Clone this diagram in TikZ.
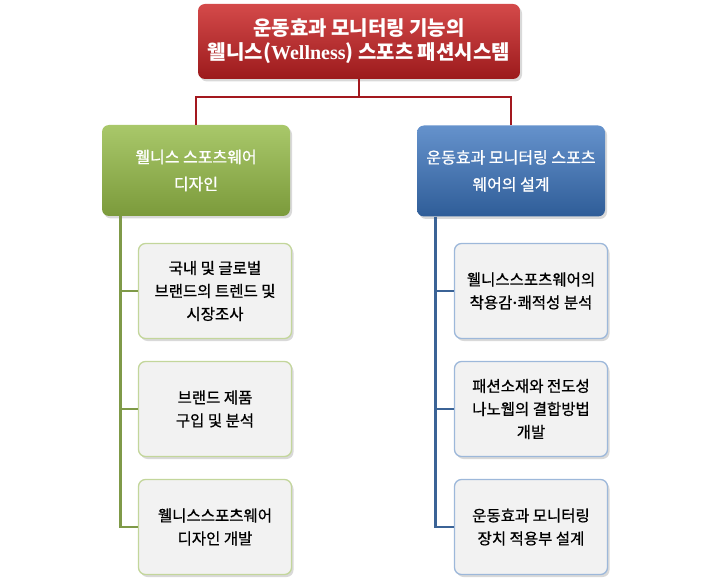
\documentclass[tikz,border=0pt]{standalone}
\usepackage{fontspec}
\setmainfont{Noto Sans CJK KR}
\newfontfamily\wellfont{Liberation Serif}
\newfontfamily\taskfont{Noto Sans CJK KR}[FakeBold=0.8]
\usetikzlibrary{shadows}
\definecolor{redtop}{HTML}{D44A4A}
\definecolor{redbot}{HTML}{9C1A1C}
\definecolor{redline}{HTML}{A3181E}
\definecolor{greentop}{HTML}{A9C86A}
\definecolor{greenbot}{HTML}{7B9A3B}
\definecolor{greenline}{HTML}{7F9A48}
\definecolor{greenedge}{HTML}{C3D69B}
\definecolor{bluetop}{HTML}{6592CC}
\definecolor{bluebot}{HTML}{2F5D98}
\definecolor{blueline}{HTML}{3B6396}
\definecolor{blueedge}{HTML}{9DB8DA}
\begin{document}
\begin{tikzpicture}[x=1pt,y=-1pt,
  box/.style={rounded corners=7pt,align=center,inner sep=0pt,
    drop shadow={opacity=0.3,shadow xshift=2pt,shadow yshift=-2.5pt}},
  headbox/.style={box,top color=redtop,bottom color=redbot,text=white,
    font=\fontsize{20}{24}\selectfont\bfseries,minimum width=322pt,minimum height=75pt},
  groupbox/.style={box,text=white,font=\taskfont\fontsize{16}{27}\selectfont,
    minimum width=188pt,minimum height=91pt},
  taskbox/.style={box,fill=black!5,draw=#1,line width=1.3pt,text=black,
    font=\taskfont\fontsize{15.5}{23}\selectfont,minimum width=153pt,minimum height=95pt},
  link/.style={line width=2.8pt,draw=#1}]
\useasboundingbox (0,0) rectangle (709,585);
% top
\node[headbox] (sys) at (359,41.5) {운동효과 모니터링 기능의\\웰니스({\wellfont\bfseries Wellness}) 스포츠 패션시스템};
% groups
\node[groupbox,top color=greentop,bottom color=greenbot] (dsgn) at (196,170.5) {웰니스 스포츠웨어\\디자인};
\node[groupbox,top color=bluetop,bottom color=bluebot] (mon) at (511,171) {운동효과 모니터링 스포츠\\웨어의 설계};
% tasks
\node[taskbox=greenedge] (l1) at (215,291) {국내 및 글로벌\\브랜드의 트렌드 및\\시장조사};
\node[taskbox=greenedge] (l2) at (215,409) {브랜드 제품\\구입 및 분석};
\node[taskbox=greenedge] (l3) at (215,527) {웰니스스포츠웨어\\디자인 개발};
\node[taskbox=blueedge] (r1) at (531,291) {웰니스스포츠웨어의\\착용감{\wellfont\bfseries ·}쾌적성 분석};
\node[taskbox=blueedge] (r2) at (531,409) {패션소재와 전도성\\나노웹의 결합방법\\개발};
\node[taskbox=blueedge] (r3) at (531,527) {운동효과 모니터링\\장치 적용부 설계};
% links
\coordinate (bus) at (359,97);
\draw[link=redline] (sys.south) -- (bus) -| (dsgn.north);
\draw[link=redline] (bus) -| (mon.north);
\coordinate (ltrunk) at ([xshift=19pt]dsgn.south west);
\coordinate (rtrunk) at ([xshift=19pt]mon.south west);
\draw[link=greenline] (ltrunk) |- (l1.west) (ltrunk) |- (l2.west) (ltrunk) |- (l3.west);
\draw[link=blueline] (rtrunk) |- (r1.west) (rtrunk) |- (r2.west) (rtrunk) |- (r3.west);
\end{tikzpicture}
\end{document}
